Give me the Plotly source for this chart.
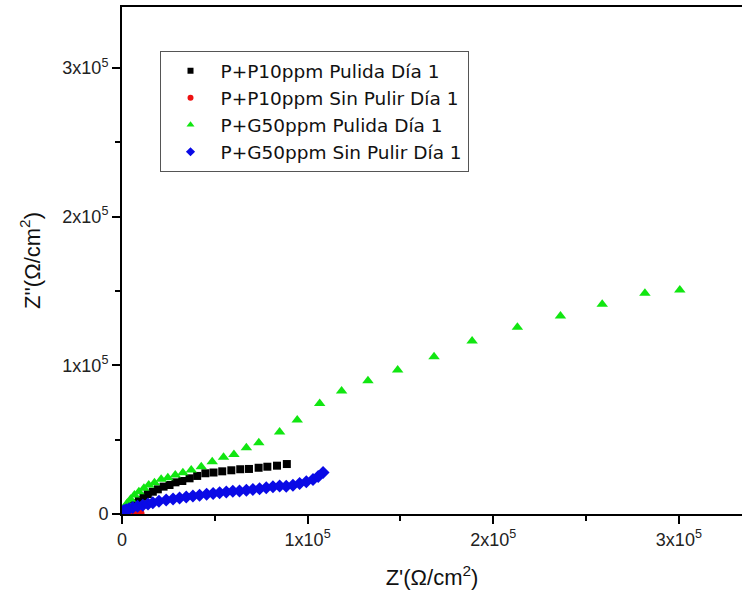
import plotly.graph_objects as go

# Series data (Z' and Z'' in ohm/cm^2)
black_x = [300, 1300, 2800, 4600, 6700, 9100, 11600, 13900, 16600, 19300, 22400, 25600, 28800,
           32500, 36400, 40500, 44900, 49300, 54000, 58900, 63700, 68400, 73600, 78300, 83500, 88800]
black_y = [800, 2200, 3800, 5400, 7200, 9400, 11600, 13400, 15000, 16600, 18400, 19500, 21300,
           22200, 24000, 25600, 27400, 27900, 28700, 29400, 30100, 30300, 31100, 31800, 32500, 33600]

red_x = [500, 1500, 2500, 3500, 4500, 5500, 6500, 7500, 8500, 9500, 10000]
red_y = [300, 600, 800, 900, 1000, 1000, 1000, 1000, 800, 500, 200]

green_x = [400, 1300, 2800, 4600, 6700, 9100, 11800, 14400, 17500, 21100, 24700, 28700, 32800,
           37300, 42700, 48600, 54700, 60300, 67000, 73700, 84900, 94400, 106500, 118300, 132500,
           148500, 168100, 188600, 213000, 236200, 258700, 281700, 300500]
green_y = [2200, 4500, 7200, 9900, 12800, 15000, 17300, 19500, 21000, 23300, 24400, 26200, 27800,
           29600, 31800, 35200, 38100, 40100, 44600, 47900, 55100, 63200, 74400, 82700, 89600,
           96800, 105800, 116300, 125600, 133200, 141000, 148400, 150600]

blue_x = [100, 1100, 2300, 3800, 5800, 8400, 11200, 14000, 16600, 19900, 23800, 27500, 31000,
          34600, 38200, 41800, 45600, 49100, 52600, 56200, 59700, 63300, 67000, 70500, 74100,
          77700, 81300, 84900, 88500, 92100, 95700, 99300, 102900, 105700, 108300]
blue_y = [1500, 2400, 2800, 3500, 4400, 5200, 5900, 6700, 7600, 8500, 9400, 10100, 10800,
          11400, 12100, 12600, 13200, 13800, 14300, 14800, 15300, 15500, 15900, 16500, 17000,
          17700, 18400, 18800, 18600, 19300, 20500, 21700, 23200, 25200, 27900]

names = ["P+P10ppm Pulida Día 1", "P+P10ppm Sin Pulir Día 1",
         "P+G50ppm Pulida Día 1", "P+G50ppm Sin Pulir Día 1"]

tick_vals = [0, 100000, 200000, 300000]
tick_text = ["0", "1x10<sup>5</sup>", "2x10<sup>5</sup>", "3x10<sup>5</sup>"]
minor_vals = [50000, 150000, 250000]

FONT = "Liberation Sans, Arial, sans-serif"
LEGEND_FONT = "DejaVu Sans, Liberation Sans, sans-serif"

series = [
    (black_x, black_y, "square", 8, 6, "#000000"),
    (red_x, red_y, "circle", 8, 6, "#ee1111"),
    (green_x, green_y, "triangle-up", 10, 7, "#11e611"),
    (blue_x, blue_y, "diamond", 10, 7, "#0a0ae6"),
]

fig = go.Figure()
for (xs, ys, sym, size, lsize, col), nm in zip(series, names):
    fig.add_trace(go.Scatter(x=xs, y=ys, mode="markers", name=nm, showlegend=False,
                             marker=dict(symbol=sym, size=size, color=col)))
# legend entries (smaller symbols, as in the reference legend)
for (xs, ys, sym, size, lsize, col), nm in zip(series, names):
    fig.add_trace(go.Scatter(x=[None], y=[None], mode="markers", name=nm, showlegend=True,
                             marker=dict(symbol=sym, size=lsize, color=col)))

axis_common = dict(
    showgrid=False, zeroline=False, showline=True, linecolor="#000000", linewidth=2,
    ticks="outside", ticklen=8, tickwidth=1.5, tickcolor="#000000",
    tickvals=tick_vals, ticktext=tick_text, automargin=False,
    tickfont=dict(family=FONT, size=18, color="#222222"),
    minor=dict(ticks="outside", ticklen=5, tickwidth=1.5, tickcolor="#000000",
               tickvals=minor_vals),
)

fig.update_layout(
    width=742, height=605,
    margin=dict(l=122, r=0, t=7, b=91),
    paper_bgcolor="white", plot_bgcolor="white",
    font=dict(family=FONT, color="#111111"),
    xaxis=dict(range=[0, 334000], mirror=True,
               title=dict(text="Z'(Ω/cm<sup>2</sup>)", font=dict(family=FONT, size=22), standoff=21),
               **axis_common),
    yaxis=dict(range=[0, 341000],
               title=dict(text="Z''(Ω/cm<sup>2</sup>)", font=dict(family=FONT, size=22), standoff=16),
               **axis_common),
    legend=dict(x=0.0605, y=0.913, xanchor="left", yanchor="top",
                bgcolor="white", bordercolor="#555555", borderwidth=1,
                font=dict(family=LEGEND_FONT, size=18.5, color="#111111"),
                itemsizing="trace", itemwidth=50, tracegroupgap=0),
    showlegend=True,
)

fig.write_html("out.html", config={"displayModeBar": False},
               post_script="document.body.style.margin='0px';document.body.style.overflow='hidden';")
